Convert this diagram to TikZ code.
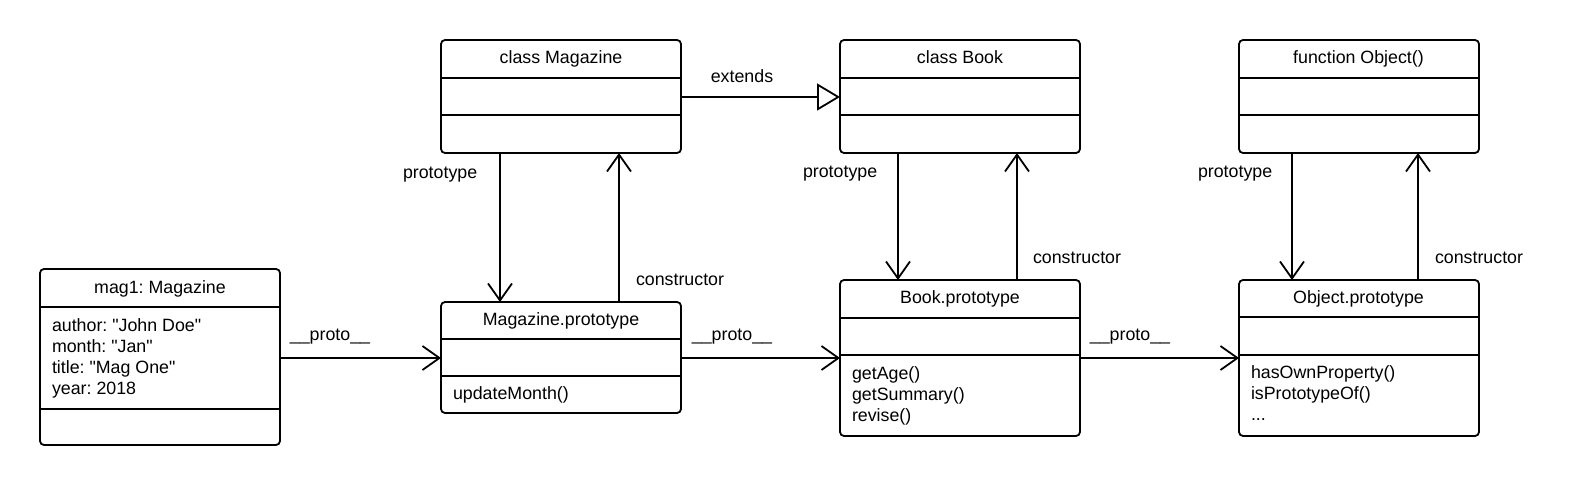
\documentclass[tikz,border=0pt]{standalone}
\usepackage{fontspec}
\setmainfont{Liberation Sans}[Ligatures=TeXOff]
\usetikzlibrary{arrows.meta}
\frenchspacing
\begin{document}
\begin{tikzpicture}[x=1pt,y=-1pt,
  umlbox/.style={draw, line width=1.8pt, rounded corners=4pt, minimum width=240pt, inner sep=0pt, outer sep=0pt, anchor=north west},
  sep/.style={line width=1.8pt},
  txt/.style={inner sep=0pt, outer sep=0pt, font=\fontsize{17.8}{21}\selectfont\frenchspacing},
  ttl/.style={txt, anchor=base},
  lft/.style={txt, anchor=base west},
  arr/.style={line width=1.8pt, line join=round, -{Straight Barb[length=17pt,width=24pt]}},
  ext/.style={line width=1.8pt, -{Triangle[open,length=23pt,width=27pt,fill=white]}}
]
\useasboundingbox (0,0) rectangle (1580,487);

% boxes
\node[umlbox, minimum height=176pt] (mg) at (40,269) {};
\node[umlbox, minimum height=113pt] (cm) at (441,40) {};
\node[umlbox, minimum height=111pt] (mp) at (441,302) {};
\node[umlbox, minimum height=113pt] (cb) at (840,40) {};
\node[umlbox, minimum height=156pt] (bp) at (840,280) {};
\node[umlbox, minimum height=113pt] (fo) at (1239,40) {};
\node[umlbox, minimum height=156pt] (op) at (1239,280) {};

% separators
\draw[sep] (mg.west |- 0,307) -- (mg.east |- 0,307);
\draw[sep] (mg.west |- 0,409) -- (mg.east |- 0,409);
\draw[sep] (cm.west |- 0,78) -- (cm.east |- 0,78);
\draw[sep] (cm.west |- 0,115) -- (cm.east |- 0,115);
\draw[sep] (mp.west |- 0,339) -- (mp.east |- 0,339);
\draw[sep] (mp.west |- 0,376) -- (mp.east |- 0,376);
\draw[sep] (cb.west |- 0,78) -- (cb.east |- 0,78);
\draw[sep] (cb.west |- 0,115) -- (cb.east |- 0,115);
\draw[sep] (bp.west |- 0,318) -- (bp.east |- 0,318);
\draw[sep] (bp.west |- 0,355) -- (bp.east |- 0,355);
\draw[sep] (fo.west |- 0,78) -- (fo.east |- 0,78);
\draw[sep] (fo.west |- 0,115) -- (fo.east |- 0,115);
\draw[sep] (op.west |- 0,317) -- (op.east |- 0,317);
\draw[sep] (op.west |- 0,355) -- (op.east |- 0,355);

% titles
\node[ttl] (mgt) at (160,293.5) {mag1: Magazine};
\node[ttl] (cmt) at (561,63.5) {class Magazine};
\node[ttl] (mpt) at (561,325.5) {Magazine.prototype};
\node[ttl] (cbt) at (960,63.5) {class Book};
\node[ttl] (bpt) at (960,303.5) {Book.prototype};
\node[ttl] (fot) at (1358.5,63.5) {function Object()};
\node[ttl] (opt) at (1358.5,303.5) {Object.prototype};

% attributes / methods
\node[lft] (mga1) at (52,331) {author: "John Doe"};
\node[lft] (mga2) at (52,352) {month: "Jan"};
\node[lft] (mga3) at (52,373) {title: "Mag One"};
\node[lft] (mga4) at (52,394) {year: 2018};
\node[lft] (mpm1) at (453,399) {updateMonth()};
\node[lft] (bpm1) at (852,379) {getAge()};
\node[lft] (bpm2) at (852,400) {getSummary()};
\node[lft] (bpm3) at (852,421) {revise()};
\node[lft] (opm1) at (1251,378) {hasOwnProperty()};
\node[lft] (opm2) at (1251,399) {isPrototypeOf()};
\node[lft] (opm3) at (1251,420) {...};

% connectors
\draw[arr] (mg.east |- 0,358) -- (mp.west |- 0,358);
\draw[arr] (mp.east |- 0,358) -- (bp.west |- 0,358);
\draw[arr] (bp.east |- 0,358) -- (op.west |- 0,358);
\draw[ext] (cm.east |- 0,97) -- (cb.west |- 0,97);

\draw[arr] (cm.south -| 500,0) -- (mp.north -| 500,0);
\draw[arr] (mp.north -| 619,0) -- (cm.south -| 619,0);
\draw[arr] (cb.south -| 898,0) -- (bp.north -| 898,0);
\draw[arr] (bp.north -| 1017,0) -- (cb.south -| 1017,0);
\draw[arr] (fo.south -| 1292,0) -- (op.north -| 1292,0);
\draw[arr] (op.north -| 1418,0) -- (fo.south -| 1418,0);

% labels
\node[ttl] (lext) at (742,83) {extends};
\node[ttl] (lp1) at (330,340) {\_\_proto\_\_};
\node[ttl] (lp2) at (732,340) {\_\_proto\_\_};
\node[ttl] (lp3) at (1130,340) {\_\_proto\_\_};
\node[lft] (lpr1) at (403,178) {prototype};
\node[lft] (lpr2) at (803,177) {prototype};
\node[lft] (lpr3) at (1198,177) {prototype};
\node[lft] (lc1) at (636,285) {constructor};
\node[lft] (lc2) at (1033,263) {constructor};
\node[lft] (lc3) at (1435,263) {constructor};
\end{tikzpicture}
\end{document}
